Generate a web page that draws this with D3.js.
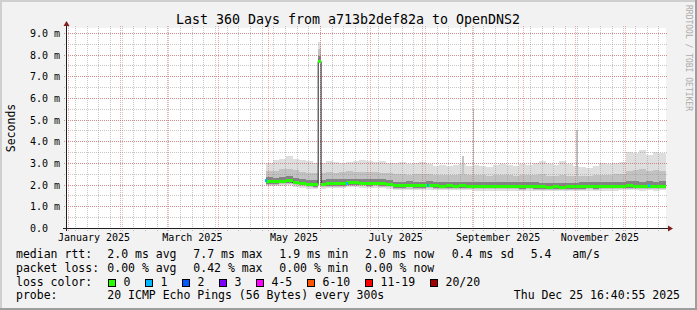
<!DOCTYPE html>
<html>
<head>
<meta charset="utf-8">
<script src="https://cdn.jsdelivr.net/npm/d3@7"></script>
<style>
body { margin: 0; background: #f2f2f2; }
text { font-family: "DejaVu Sans Mono", monospace; white-space: pre; fill: #000; }
</style>
</head>
<body>
<div id="chart"></div>
<script>
// graph covers the last 360 days up to this moment
var endTime = new Date("2025-12-25T16:40:55Z")
var startTime = d3.utcDay.offset(endTime, -360)

// smoke data: one value per 4 day bucket, starting at firstBucket (ms)
var firstBucket = new Date("2025-04-29T16:40:55Z")
var bucketDays = 4
var medianMs = [2.16, 2.15, 2.19, 2.20, 2.13, 2.08, 2.03, 2.02, 2.05, 2.06,
    2.06, 2.07, 2.10, 2.10, 2.08, 2.07, 2.08, 2.07, 2.03, 1.97,
    1.97, 1.98, 1.97, 1.97, 1.99, 1.97, 1.96, 1.97, 1.96, 1.97,
    1.96, 1.95, 1.95, 1.94, 1.95, 1.95, 1.94, 1.94, 1.93, 1.94,
    1.93, 1.92, 1.91, 1.92, 1.91, 1.92, 1.92, 1.93, 1.94, 1.93,
    1.94, 1.95, 1.95, 1.96, 1.97, 1.96, 1.95, 1.96, 1.95, 1.96]
var maxMs = [3.00, 3.15, 3.20, 3.30, 3.20, 3.15, 3.10, 3.00, 3.00, 3.10,
    3.05, 3.00, 3.05, 3.10, 3.15, 3.10, 3.05, 3.10, 3.00, 3.00,
    3.05, 2.95, 3.00, 3.05, 2.95, 2.85, 2.90, 2.85, 2.90, 2.95,
    2.85, 2.90, 2.85, 2.80, 2.90, 2.95, 2.90, 2.85, 2.95, 2.90,
    3.00, 3.10, 2.95, 2.90, 3.10, 2.95, 2.85, 2.80, 2.75, 2.85,
    3.00, 2.95, 3.00, 3.05, 3.50, 3.45, 3.60, 3.35, 3.50, 3.45]
var p80Ms = [2.62, 2.65, 2.70, 2.72, 2.66, 2.60, 2.55, 2.52, 2.55, 2.58,
    2.56, 2.58, 2.62, 2.60, 2.58, 2.57, 2.58, 2.56, 2.52, 2.47,
    2.48, 2.46, 2.47, 2.48, 2.47, 2.44, 2.45, 2.44, 2.45, 2.48,
    2.44, 2.43, 2.44, 2.42, 2.44, 2.45, 2.43, 2.42, 2.44, 2.43,
    2.45, 2.47, 2.42, 2.41, 2.44, 2.42, 2.40, 2.40, 2.41, 2.43,
    2.46, 2.46, 2.48, 2.50, 2.62, 2.66, 2.70, 2.64, 2.68, 2.65]
var p60Ms = [2.34, 2.33, 2.37, 2.38, 2.31, 2.26, 2.21, 2.20, 2.23, 2.24,
    2.24, 2.25, 2.28, 2.28, 2.26, 2.25, 2.26, 2.25, 2.21, 2.14,
    2.14, 2.15, 2.14, 2.14, 2.16, 2.14, 2.13, 2.14, 2.13, 2.14,
    2.13, 2.12, 2.12, 2.11, 2.12, 2.12, 2.11, 2.11, 2.10, 2.11,
    2.10, 2.09, 2.08, 2.09, 2.08, 2.09, 2.09, 2.10, 2.11, 2.10,
    2.11, 2.12, 2.12, 2.13, 2.16, 2.15, 2.14, 2.15, 2.14, 2.15]
var p40Ms = [2.05, 2.04, 2.08, 2.09, 2.02, 1.97, 1.92, 1.91, 1.94, 1.95,
    1.95, 1.96, 1.99, 1.99, 1.97, 1.96, 1.97, 1.96, 1.92, 1.86,
    1.86, 1.87, 1.86, 1.86, 1.88, 1.86, 1.85, 1.86, 1.85, 1.86,
    1.85, 1.84, 1.84, 1.83, 1.84, 1.84, 1.83, 1.83, 1.82, 1.83,
    1.82, 1.81, 1.80, 1.81, 1.80, 1.81, 1.81, 1.82, 1.83, 1.82,
    1.83, 1.84, 1.84, 1.85, 1.86, 1.85, 1.84, 1.85, 1.84, 1.85]
var p20Ms = [2.00, 1.99, 2.03, 2.04, 1.97, 1.92, 1.87, 1.86, 1.89, 1.90,
    1.90, 1.91, 1.94, 1.94, 1.92, 1.91, 1.92, 1.91, 1.87, 1.81,
    1.81, 1.82, 1.81, 1.81, 1.83, 1.81, 1.80, 1.81, 1.80, 1.81,
    1.80, 1.79, 1.79, 1.78, 1.79, 1.79, 1.78, 1.78, 1.77, 1.78,
    1.77, 1.76, 1.75, 1.76, 1.75, 1.76, 1.76, 1.77, 1.78, 1.77,
    1.78, 1.79, 1.79, 1.80, 1.81, 1.80, 1.79, 1.80, 1.79, 1.80]
var minMs = [1.94, 1.93, 1.96, 1.97, 1.90, 1.85, 1.80, 1.79, 1.82, 1.84,
    1.84, 1.85, 1.88, 1.88, 1.86, 1.85, 1.86, 1.85, 1.81, 1.75,
    1.75, 1.76, 1.75, 1.75, 1.77, 1.75, 1.74, 1.75, 1.74, 1.75,
    1.74, 1.73, 1.73, 1.72, 1.73, 1.73, 1.72, 1.72, 1.71, 1.72,
    1.71, 1.70, 1.69, 1.70, 1.69, 1.70, 1.70, 1.71, 1.72, 1.71,
    1.72, 1.73, 1.73, 1.74, 1.75, 1.74, 1.73, 1.74, 1.73, 1.74]

// the one sample where the median jumped (min, p20, p40, median, p60, p80, max)
var spikeRange = ["2025-05-31T00:00:00Z", "2025-06-01T18:00:00Z"]
var spikeMs = [7.62, 7.66, 7.70, 7.70, 7.95, 8.28, 8.60]

// single slow pings sticking out of the smoke
var outlierDates = ["2025-08-25T00:00:00Z", "2025-08-31T20:00:00Z", "2025-11-01T12:00:00Z"]
var outlierDays = [1.2, 0.8, 1.2]
var outlierMs = [3.3, 5.5, 4.5]

// samples with 1 of 20 pings lost
var lossDates = ["2025-04-29T06:00:00Z", "2025-06-16T12:00:00Z", "2025-08-04T12:00:00Z", "2025-12-15T00:00:00Z"]
var lossMs = [2.22, 2.08, 2.00, 1.97]

// legend
var lossLabels = ["0", "1", "2", "3", "4-5", "6-10", "11-19", "20/20"]
var lossColors = ["#26ff00", "#00b8ff", "#0059ff", "#7e00ff", "#ff00ff", "#ff5500", "#ff0000", "#a10000"]
var rttItems = ["2.0 ms avg", "7.7 ms max", "1.9 ms min", "2.0 ms now", "0.4 ms sd", "5.4   am/s"]
var lossItems = ["0.00 % avg", "0.42 % max", "0.00 % min", "0.00 % now"]

var W = 697, H = 310
var svg = d3.select("#chart").append("svg")
    .attr("width", W)
    .attr("height", H)

// background and 3d shade
svg.append("rect").attr("width", W).attr("height", H).attr("fill", "#f2f2f2")
svg.append("rect").attr("width", W).attr("height", 2).attr("fill", "#cfcfcf")
svg.append("rect").attr("width", 2).attr("height", H).attr("fill", "#cfcfcf")
svg.append("rect").attr("y", H - 2).attr("width", W).attr("height", 2).attr("fill", "#9e9e9e")
svg.append("rect").attr("x", W - 2).attr("width", 2).attr("height", H).attr("fill", "#9e9e9e")

var x = d3.scaleUtc().domain([startTime, endTime]).range([66, 666])
var y = d3.scaleLinear().domain([0, 9.23]).range([228, 28])
var px = function (v) { return Math.round(v) + 0.5 }

// canvas
svg.append("rect")
    .attr("x", x.range()[0]).attr("y", y.range()[1])
    .attr("width", x.range()[1] - x.range()[0])
    .attr("height", y.range()[0] - y.range()[1])
    .attr("fill", "#ffffff")

// build the step series and splice in the spike
var rows = medianMs.map(function (m, i) {
    return {
        t: d3.utcDay.offset(firstBucket, i * bucketDays),
        min: minMs[i], p20: p20Ms[i], p40: p40Ms[i], median: m,
        p60: p60Ms[i], p80: p80Ms[i], max: maxMs[i]
    }
})
var s0 = new Date(spikeRange[0]), s1 = new Date(spikeRange[1])
var series = rows.filter(function (r) { return r.t < s0 })
series.push({
    t: s0, min: spikeMs[0], p20: spikeMs[1], p40: spikeMs[2], median: spikeMs[3],
    p60: spikeMs[4], p80: spikeMs[5], max: spikeMs[6]
})
var cont = rows.filter(function (r) { return r.t <= s1 }).pop()
series.push(Object.assign({}, cont, { t: s1 }))
rows.filter(function (r) { return r.t > s1 }).forEach(function (r) { series.push(r) })
series.push(Object.assign({}, series[series.length - 1], { t: endTime }))

// smoke layers, outer to inner
var layers = [["min", "max", "#dedede"], ["p20", "p80", "#c2c2c2"], ["p40", "p60", "#838383"]]
layers.forEach(function (l) {
    svg.append("path")
        .datum(series)
        .attr("d", d3.area().curve(d3.curveStepAfter)
            .x(function (d) { return x(d.t) })
            .y0(function (d) { return y(d[l[0]]) })
            .y1(function (d) { return y(d[l[1]]) }))
        .attr("fill", l[2])
        .attr("shape-rendering", "crispEdges")
})

// outliers
svg.selectAll(".outlier")
    .data(outlierDates)
    .enter().append("rect")
    .attr("x", function (d) { return Math.round(x(new Date(d))) })
    .attr("width", function (d, i) { return Math.max(1, Math.round(x(new Date(+new Date(d) + outlierDays[i] * 864e5)) - x(new Date(d)))) })
    .attr("y", function (d, i) { return y(outlierMs[i]) })
    .attr("height", function (d, i) { return y(2.4) - y(outlierMs[i]) })
    .attr("fill", "#c4c4c4")
    .attr("shape-rendering", "crispEdges")

// grid
var weeks = d3.utcSunday.range(startTime, endTime)
var months = d3.utcMonth.range(startTime, endTime)
var minorY = y.ticks(20), majorY = y.ticks(10)
var grid = svg.append("g").attr("fill", "none")

grid.selectAll(".vmin").data(weeks).enter().append("line")
    .attr("x1", function (d) { return px(x(d)) }).attr("x2", function (d) { return px(x(d)) })
    .attr("y1", 26).attr("y2", 231)
    .attr("stroke", "rgba(143,143,143,0.5)")
    .attr("stroke-dasharray", "1,1")
grid.selectAll(".hmin").data(minorY).enter().append("line")
    .attr("y1", function (d) { return px(y(d)) }).attr("y2", function (d) { return px(y(d)) })
    .attr("x1", 64).attr("x2", 668)
    .attr("stroke", "rgba(143,143,143,0.5)")
    .attr("stroke-dasharray", "1,1")
grid.selectAll(".vmaj").data(months).enter().append("line")
    .attr("x1", function (d) { return px(x(d)) }).attr("x2", function (d) { return px(x(d)) })
    .attr("y1", 26).attr("y2", 231)
    .attr("stroke", "rgba(222,79,79,0.48)")
    .attr("stroke-dasharray", "1,1")
grid.selectAll(".hmaj").data(majorY).enter().append("line")
    .attr("y1", function (d) { return px(y(d)) }).attr("y2", function (d) { return px(y(d)) })
    .attr("x1", 64).attr("x2", 668)
    .attr("stroke", "rgba(222,79,79,0.48)")
    .attr("stroke-dasharray", "1,1")

// median line and loss coloured band
svg.append("path")
    .datum(series)
    .attr("d", d3.line().curve(d3.curveStepAfter)
        .x(function (d) { return x(d.t) })
        .y(function (d) { return px(y(d.median)) }))
    .attr("fill", "none")
    .attr("stroke", "#202020")
    .attr("stroke-width", 1)
svg.append("path")
    .datum(series)
    .attr("d", d3.area().curve(d3.curveStepAfter)
        .x(function (d) { return x(d.t) })
        .y0(function (d) { return Math.round(y(d.median)) + 2 })
        .y1(function (d) { return Math.round(y(d.median)) - 1 }))
    .attr("fill", lossColors[0])
    .attr("shape-rendering", "crispEdges")
svg.selectAll(".loss")
    .data(lossDates)
    .enter().append("rect")
    .attr("x", function (d) { return x(new Date(d)) })
    .attr("width", function (d) { return x(d3.utcHour.offset(new Date(d), 30)) - x(new Date(d)) })
    .attr("y", function (d, i) { return Math.round(y(lossMs[i])) - 1 })
    .attr("height", 3)
    .attr("fill", lossColors[1])
    .attr("shape-rendering", "crispEdges")

// axes
svg.append("line")
    .attr("x1", 63).attr("x2", 669)
    .attr("y1", px(y(0))).attr("y2", px(y(0)))
    .attr("stroke", "#1f1f1f")
svg.append("line")
    .attr("x1", 66.5).attr("x2", 66.5)
    .attr("y1", 231).attr("y2", 25)
    .attr("stroke", "#1f1f1f")
svg.append("path").attr("d", "M668,225.5L673,228.5L668,231.5Z").attr("fill", "#801f1f")
svg.append("path").attr("d", "M63.5,26L66.5,21L69.5,26Z").attr("fill", "#801f1f")

// y labels
svg.selectAll(".ylab")
    .data(majorY)
    .enter().append("text")
    .attr("x", 30)
    .attr("y", function (d) { return Math.round(y(d)) + 4 })
    .style("font-size", "10px")
    .text(function (d) { return d === 0 ? "0.0" : d.toFixed(1) + " m" })

// x labels, every second month, centred on the month
var fmt = d3.utcFormat("%B %Y")
svg.selectAll(".xlab")
    .data(months.filter(function (m) { return m.getUTCMonth() % 2 === 0 }))
    .enter().append("text")
    .attr("x", function (d) { return (x(d) + x(d3.utcMonth.offset(d, 1))) / 2 })
    .attr("y", 241)
    .attr("text-anchor", "middle")
    .style("font-size", "10px")
    .text(fmt)

// title, unit, watermark
svg.append("text")
    .attr("x", 348).attr("y", 24)
    .attr("text-anchor", "middle")
    .style("font-size", "13.3px")
    .text("Last 360 Days from a713b2def82a to OpenDNS2")
svg.append("text")
    .attr("transform", "translate(15,128) rotate(-90)")
    .attr("text-anchor", "middle")
    .style("font-size", "11.5px")
    .text("Seconds")
svg.append("text")
    .attr("transform", "translate(686,5) rotate(90)")
    .style("font-size", "8px")
    .style("fill", "#ababab")
    .text("RRDTOOL / TOBI OETIKER")

// legend
var legend = svg.append("g").style("font-size", "11.5px")
var colX = [107.3, 193.3, 279.3, 365, 451.7, 530.7]
legend.append("text").attr("x", 16).attr("y", 258).text("median rtt:")
legend.selectAll(".rtt").data(rttItems).enter().append("text")
    .attr("x", function (d, i) { return colX[i] }).attr("y", 258).text(function (d) { return d })
legend.append("text").attr("x", 16).attr("y", 272).text("packet loss:")
legend.selectAll(".lossi").data(lossItems).enter().append("text")
    .attr("x", function (d, i) { return colX[i] }).attr("y", 272).text(function (d) { return d })
legend.append("text").attr("x", 16).attr("y", 285.5).text("loss color:")
var swX = [108.5, 145.5, 182.5, 219.5, 256.5, 307.5, 365.5, 430.5]
var sw = legend.selectAll(".sw").data(lossLabels).enter().append("g")
sw.append("rect")
    .attr("x", function (d, i) { return swX[i] }).attr("y", 279.5)
    .attr("width", 7).attr("height", 7)
    .attr("fill", function (d, i) { return lossColors[i] })
    .attr("stroke", "#000")
sw.append("text")
    .attr("x", function (d, i) { return swX[i] + 15 }).attr("y", 285.5)
    .text(function (d) { return d })
legend.append("text").attr("x", 16).attr("y", 299).text("probe:")
legend.append("text").attr("x", 107.3).attr("y", 299).text("20 ICMP Echo Pings (56 Bytes) every 300s")
legend.append("text").attr("x", 680).attr("y", 299).attr("text-anchor", "end").text("Thu Dec 25 16:40:55 2025")
</script>
</body>
</html>
